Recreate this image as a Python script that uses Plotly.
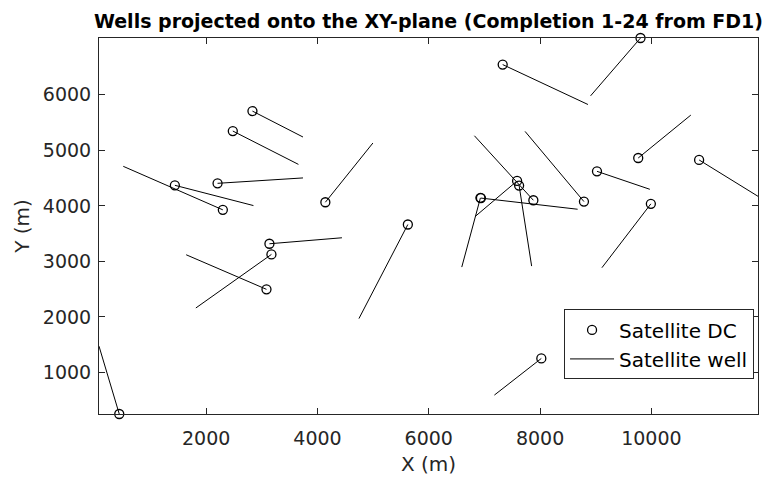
import plotly.graph_objects as go

# Drilling-centre (DC) positions of the 24 satellite wells (m)
dc_x = [2832, 2479, 2205, 1438, 2300, 4142, 5624, 3137, 3173, 3084, 439, 7328,
        9804, 9763, 10857, 9022, 9990, 8788, 7879, 7587, 7623, 6928, 6937, 8022]
dc_y = [5707, 5348, 4406, 4370, 3928, 4065, 3664, 3317, 3125, 2496, 250, 6545,
        7024, 4862, 4827, 4622, 4036, 4077, 4101, 4449, 4365, 4144, 4140, 1251]
# Well end points projected onto the XY-plane (m)
end_x = [3740, 3658, 3740, 2850, 511, 4996, 4745, 4440, 1815, 1641, 75, 8860,
         8907, 10708, 11915, 9972, 9111, 7730, 6820, 6833, 7848, 6593, 8674, 7179]
end_y = [5240, 4747, 4503, 4005, 4712, 5132, 1969, 3425, 2160, 3119, 1472, 5826,
         5982, 5635, 4172, 4298, 2886, 5341, 5263, 3808, 2915, 2897, 3939, 591]

x_ticks = [2000, 4000, 6000, 8000, 10000]
x_tick_labels = ["2000", "4000", "6000", "8000", "10000"]
y_ticks = [1000, 2000, 3000, 4000, 5000, 6000]
y_tick_labels = ["1000", "2000", "3000", "4000", "5000", "6000"]

title_text = "Wells projected onto the XY-plane (Completion 1-24 from FD1)"

# build line segments (DC -> end point), separated by None
seg_x, seg_y = [], []
for x0, y0, x1, y1 in zip(dc_x, dc_y, end_x, end_y):
    seg_x += [x0, x1, None]
    seg_y += [y0, y1, None]

all_x = dc_x + end_x
all_y = dc_y + end_y

AX = "#262626"
FONT = "DejaVu Sans"

fig = go.Figure()
fig.add_trace(go.Scatter(
    x=dc_x, y=dc_y, mode="markers", name="Satellite DC",
    marker=dict(symbol="circle-open", size=9, color="black", line=dict(width=1.3)),
    cliponaxis=False,
))
fig.add_trace(go.Scatter(
    x=seg_x, y=seg_y, mode="lines", name="Satellite well",
    line=dict(color="black", width=1), cliponaxis=False,
))

fig.update_layout(
    width=763, height=478, autosize=False,
    margin=dict(l=99, r=5, t=38, b=64, pad=0),
    paper_bgcolor="white", plot_bgcolor="white",
    font=dict(family=FONT, size=19, color=AX),
    title=dict(text="<b>" + title_text + "</b>", x=0.5, xref="paper",
               y=1 - 21 / 478, yref="container", yanchor="middle", xanchor="center",
               font=dict(family=FONT, size=19, color="black")),
    showlegend=True,
    legend=dict(x=0.994, y=0.092, xanchor="right", yanchor="bottom",
                bgcolor="white", bordercolor=AX, borderwidth=1,
                font=dict(family=FONT, size=20, color="black"),
                itemwidth=44, tracegroupgap=0),
    xaxis=dict(range=[min(all_x), max(all_x)], tickvals=x_ticks, ticktext=x_tick_labels,
               showgrid=False, zeroline=False, showline=True, linecolor=AX, linewidth=1,
               mirror="ticks", ticks="inside", ticklen=6, tickcolor=AX, tickwidth=1,
               ticklabelstandoff=7,
               tickfont=dict(family=FONT, size=19, color=AX),
               title=dict(text="X (m)", font=dict(family=FONT, size=20, color=AX), standoff=9)),
    yaxis=dict(range=[min(all_y), max(all_y)], tickvals=y_ticks, ticktext=y_tick_labels,
               showgrid=False, zeroline=False, showline=True, linecolor=AX, linewidth=1,
               mirror="ticks", ticks="inside", ticklen=6, tickcolor=AX, tickwidth=1,
               ticklabelstandoff=3,
               tickfont=dict(family=FONT, size=19, color=AX),
               title=dict(text="Y (m)", font=dict(family=FONT, size=20, color=AX), standoff=7)),
)

fig.write_html("out.html")
